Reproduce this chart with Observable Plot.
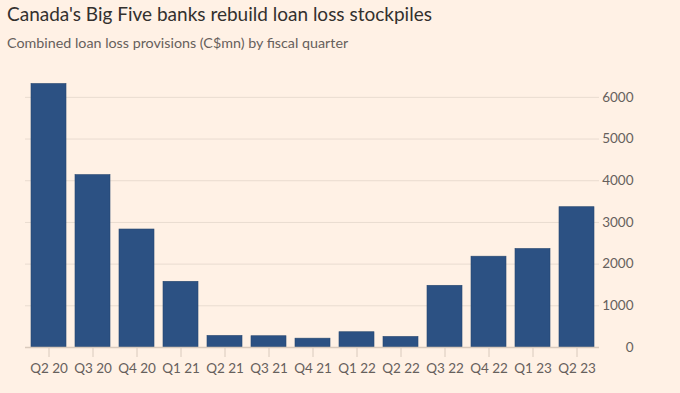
<!DOCTYPE html>
<html>
<head>
<meta charset="utf-8">
<script src="https://cdn.jsdelivr.net/npm/d3@7"></script>
<script src="https://cdn.jsdelivr.net/npm/@observablehq/plot@0.6"></script>
<style>
  html, body { margin: 0; padding: 0; background: #fff1e5; }
  body { width: 680px; height: 393px; overflow: hidden; font-family: Lato, sans-serif; }
  #title { position: absolute; left: 7px; top: 2px; font-size: 19px; color: #33302e; white-space: nowrap; }
  #subtitle { position: absolute; left: 7px; top: 34px; font-size: 14.3px; color: #66605c; white-space: nowrap; }
  #chart { position: absolute; left: 0; top: 60px; }
</style>
</head>
<body>
<div id="title">Canada's Big Five banks rebuild loan loss stockpiles</div>
<div id="subtitle">Combined loan loss provisions (C$mn) by fiscal quarter</div>
<div id="chart"></div>
<script>
const quarters = ["Q2 20","Q3 20","Q4 20","Q1 21","Q2 21","Q3 21","Q4 21","Q1 22","Q2 22","Q3 22","Q4 22","Q1 23","Q2 23"];
const provisions = [6320, 4135, 2830, 1576, 277, 270, 212, 366, 253, 1480, 2178, 2363, 3365];
const yTicks = [0, 1000, 2000, 3000, 4000, 5000, 6000];

const data = quarters.map((q, i) => ({quarter: q, value: provisions[i]}));

const chart = Plot.plot({
  width: 680,
  height: 333,
  marginLeft: 25,
  marginRight: 81,
  marginTop: 16,
  marginBottom: 46,
  style: {background: "transparent", fontFamily: "Lato, sans-serif", fontSize: "13.5px", color: "#66605c"},
  x: {domain: quarters, paddingInner: 0.21, paddingOuter: 0.06, label: null},
  y: {domain: [0, 6500], label: null},
  marks: [
    Plot.gridY(yTicks, {stroke: "#e9dcd0", strokeOpacity: 1, strokeWidth: 1}),
    Plot.barY(data, {x: "quarter", y: "value", fill: "#2c5183", stroke: "#27476f", strokeWidth: 0.6}),
    Plot.ruleY([0], {stroke: "#d9cabd", strokeWidth: 1.5}),
    Plot.axisX({tickSize: 10, tickPadding: 6, stroke: "#d9cabd", fill: "#66605c", fontSize: 13.5}),
    Plot.axisY(yTicks, {anchor: "right", tickSize: 0, tickPadding: 0, textAnchor: "end", dx: 34, tickFormat: d3.format("d"), fill: "#66605c", fontSize: 13.5})
  ]
});
document.getElementById("chart").appendChild(chart);
</script>
</body>
</html>
